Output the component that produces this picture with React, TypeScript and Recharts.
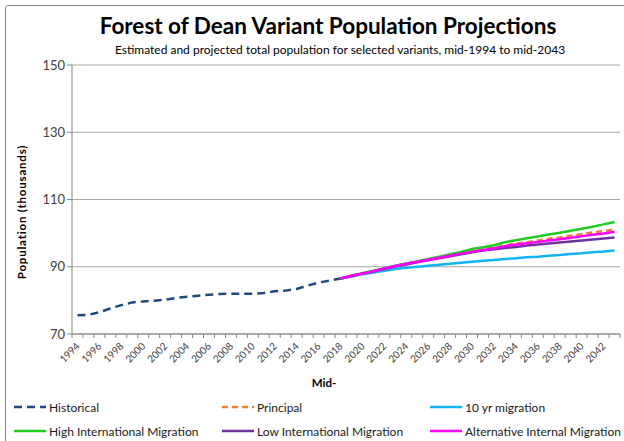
import React from 'react'
import { LineChart, Line, XAxis, YAxis, CartesianGrid } from 'recharts'

const historicalYears = [1994, 1995, 1996, 1997, 1998, 1999, 2000, 2001, 2002, 2003, 2004, 2005, 2006, 2007, 2008, 2009, 2010, 2011, 2012, 2013, 2014, 2015, 2016, 2017, 2018]
const historical = [75.6, 75.7, 76.5, 77.6, 78.6, 79.4, 79.7, 79.9, 80.2, 80.7, 81.1, 81.4, 81.7, 81.9, 82.0, 82.0, 82.0, 82.2, 82.7, 82.9, 83.4, 84.4, 85.3, 85.9, 86.5]

const projectionYears = [2018, 2019, 2020, 2021, 2022, 2023, 2024, 2025, 2026, 2027, 2028, 2029, 2030, 2031, 2032, 2033, 2034, 2035, 2036, 2037, 2038, 2039, 2040, 2041, 2042, 2043]
const principal = [86.5, 87.3, 88.0, 88.7, 89.5, 90.2, 90.9, 91.5, 92.1, 92.7, 93.3, 94.0, 94.6, 95.2, 95.7, 96.3, 96.9, 97.3, 97.8, 98.3, 98.7, 99.2, 99.7, 100.2, 100.6, 101.1]
const tenYr = [86.5, 87.1, 87.8, 88.3, 88.8, 89.3, 89.7, 90.0, 90.3, 90.6, 90.9, 91.2, 91.5, 91.8, 92.0, 92.3, 92.5, 92.8, 93.0, 93.3, 93.5, 93.8, 94.0, 94.3, 94.5, 94.8]
const highInt = [86.5, 87.3, 88.1, 88.8, 89.6, 90.3, 91.0, 91.6, 92.3, 93.0, 93.7, 94.4, 95.3, 95.8, 96.4, 97.3, 97.9, 98.5, 99.0, 99.6, 100.1, 100.7, 101.3, 101.9, 102.6, 103.3]
const lowInt = [86.5, 87.2, 87.9, 88.6, 89.4, 90.1, 90.7, 91.3, 91.9, 92.5, 93.1, 93.7, 94.3, 94.8, 95.2, 95.6, 95.9, 96.3, 96.6, 96.9, 97.2, 97.5, 97.8, 98.1, 98.4, 98.7]
const altInternal = [86.5, 87.3, 88.0, 88.7, 89.5, 90.2, 90.9, 91.5, 92.1, 92.7, 93.3, 93.9, 94.5, 95.0, 95.5, 96.1, 96.6, 97.0, 97.4, 97.8, 98.2, 98.6, 99.1, 99.5, 99.9, 100.4]

const yTicks = [70, 90, 110, 130, 150]

const series = [
  { key: 'historical', name: 'Historical', color: '#1F497D', dash: '8 5' },
  { key: 'principal', name: 'Principal', color: '#F07F2E', dash: '6 4' },
  { key: 'tenYr', name: '10 yr migration', color: '#10B4EE' },
  { key: 'highInt', name: 'High International Migration', color: '#22CC22' },
  { key: 'lowInt', name: 'Low International Migration', color: '#7030A0' },
  { key: 'altInternal', name: 'Alternative Internal Migration', color: '#FF00FF' }
]

const data: any[] = []
for (let y = 1994; y <= 2043; y++) {
  const row: any = { year: y }
  const h = historicalYears.indexOf(y)
  if (h >= 0) row.historical = historical[h]
  const p = projectionYears.indexOf(y)
  if (p >= 0) {
    row.principal = principal[p]
    row.tenYr = tenYr[p]
    row.highInt = highInt[p]
    row.lowInt = lowInt[p]
    row.altInternal = altInternal[p]
  }
  data.push(row)
}

// ticks at category boundaries (x.5) and labels at even-year centres
const xTicks: number[] = []
for (let v = 1993.5; v <= 2043.5; v += 0.5) xTicks.push(v)

const font = 'Lato, "Open Sans", sans-serif'

const XTick = (props: any) => {
  const { x, y, payload } = props
  const v = payload.value
  if (v % 1 !== 0) {
    return <line x1={x} x2={x} y1={y - 8} y2={y - 4} stroke="#868686" />
  }
  if (v % 2 !== 0) return null
  return (
    <text x={x} y={y + 2} transform={`rotate(-45 ${x} ${y + 2})`} textAnchor="end" fontSize={10} fill="#404040" fontFamily={font} dy={4}>
      {v}
    </text>
  )
}

const LegendBlock = () => (
  <div style={{ position: 'absolute', left: 14, top: 399, display: 'grid', gridTemplateColumns: '208px 208px 200px', rowGap: 8, fontFamily: font, fontSize: 12, color: '#1a1a1a' }}>
    {series.map(s => (
      <div key={s.key} style={{ display: 'flex', alignItems: 'center', height: 16 }}>
        <svg width={32} height={6} style={{ marginRight: 3 }}>
          <line x1={0} x2={32} y1={3} y2={3} stroke={s.color} strokeWidth={2.5} strokeDasharray={s.dash} />
        </svg>
        <span>{s.name}</span>
      </div>
    ))}
  </div>
)

export default function App() {
  return (
    <div style={{ position: 'absolute', left: 0, top: 0, width: 624, height: 441, background: '#fff', overflow: 'hidden', fontFamily: font }}>
      <div style={{ position: 'absolute', left: 5, top: 5, width: 640, height: 460, border: '1px solid #888', borderRadius: 3 }} />
      <div style={{ position: 'absolute', left: 0, width: 656, top: 12, textAlign: 'center', fontSize: 22.5, fontWeight: 700, color: '#000' }}>
        Forest of Dean Variant Population Projections
      </div>
      <div style={{ position: 'absolute', left: 0, width: 680, top: 42, textAlign: 'center', fontSize: 12, color: '#000' }}>
        Estimated and projected total population for selected variants, mid-1994 to mid-2043
      </div>
      <div style={{ position: 'absolute', left: 21, top: 212, transform: 'translate(-50%, -50%) rotate(-90deg)', whiteSpace: 'nowrap', fontSize: 11.5, fontWeight: 700, letterSpacing: 0.8 }}>
        Population (thousands)
      </div>
      <div style={{ position: 'absolute', left: 324, top: 382, transform: 'translate(-50%, -50%)', fontSize: 11.5, fontWeight: 700 }}>
        Mid-
      </div>
      <LineChart width={624} height={441} data={data} margin={{ top: 65, right: 4, left: 0, bottom: 0 }} style={{ position: 'absolute', left: 0, top: 0 }}>
        <CartesianGrid vertical={false} stroke="#A6A6A6" />
        <XAxis
          dataKey="year"
          type="number"
          domain={[1993.5, 2043.5]}
          ticks={xTicks}
          interval={0}
          height={107}
          stroke="#868686"
          tickLine={false}
          tick={<XTick />}
        />
        <YAxis
          domain={[70, 150]}
          ticks={yTicks}
          width={72}
          stroke="#868686"
          tickSize={5}
          tick={{ fill: '#404040', fontSize: 13, fontFamily: font }}
        />
        {series.map(s => (
          <Line
            key={s.key}
            dataKey={s.key}
            name={s.name}
            stroke={s.color}
            strokeWidth={2.5}
            strokeDasharray={s.dash}
            dot={false}
            type="linear"
            connectNulls={false}
            isAnimationActive={false}
          />
        ))}
      </LineChart>
      <LegendBlock />
    </div>
  )
}
